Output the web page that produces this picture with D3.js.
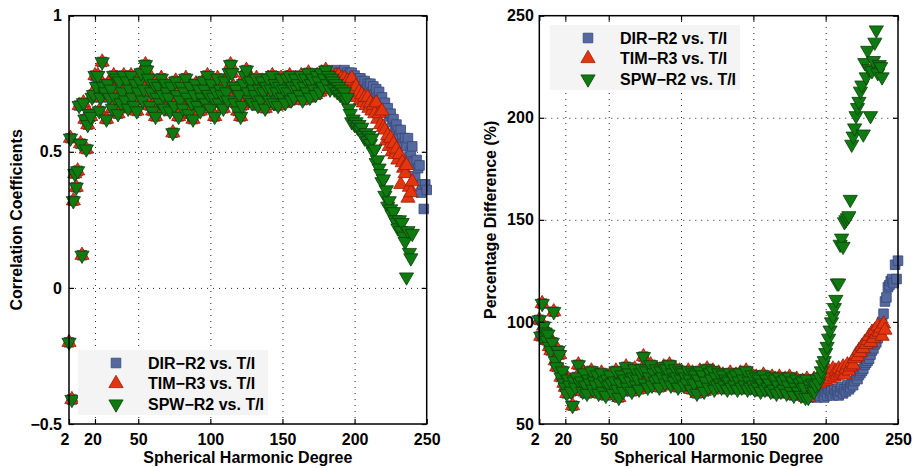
<!DOCTYPE html>
<html>
<head>
<meta charset="utf-8">
<script src="https://cdn.jsdelivr.net/npm/d3@7"></script>
<style>
  body { margin: 0; background: #fff; }
  text { font-family: "Liberation Sans", Arial, Helvetica, sans-serif; font-weight: bold; }
</style>
</head>
<body>
<script>
// ---- data (index 0 = first degree of each array) ----
// correlation coefficients, degrees 2..184, shared by all three solutions
var corrCommon = [
  -0.20, 0.55, -0.41, 0.32, 0.42, 0.37, 0.43, 0.67, 0.53, 0.12,
  0.68, 0.62, 0.51, 0.60, 0.64, 0.63, 0.70, 0.71, 0.78, 0.74,
  0.78, 0.65, 0.70, 0.83, 0.74, 0.72, 0.62, 0.75, 0.70,
  0.73, 0.66, 0.78, 0.70, 0.77, 0.64, 0.76, 0.68, 0.72, 0.78,
  0.69, 0.76, 0.66, 0.73, 0.78, 0.70, 0.67, 0.75, 0.65, 0.72,
  0.76, 0.79, 0.69, 0.73, 0.82, 0.80, 0.77, 0.67, 0.72, 0.65,
  0.75, 0.63, 0.70, 0.74, 0.68, 0.77, 0.71, 0.66, 0.75, 0.72,
  0.70, 0.65, 0.74, 0.57, 0.67, 0.76, 0.71, 0.63, 0.69, 0.74,
  0.66, 0.72, 0.77, 0.70, 0.64, 0.74, 0.68, 0.62, 0.71, 0.75,
  0.67, 0.73, 0.65, 0.70, 0.76, 0.73, 0.68, 0.78, 0.71, 0.66,
  0.75, 0.70, 0.63, 0.72, 0.77, 0.68, 0.73, 0.71, 0.66, 0.76,
  0.72, 0.69, 0.79, 0.82, 0.79, 0.74, 0.68, 0.73, 0.65, 0.71,
  0.63, 0.67, 0.75, 0.78, 0.80, 0.72, 0.69, 0.76, 0.68, 0.73,
  0.71, 0.77, 0.67, 0.73, 0.69, 0.76, 0.72, 0.66, 0.74, 0.77,
  0.69, 0.73, 0.78, 0.68, 0.75, 0.72, 0.67, 0.74, 0.77, 0.70,
  0.73, 0.68, 0.77, 0.72, 0.78, 0.69, 0.74, 0.70, 0.77, 0.73,
  0.75, 0.71, 0.78, 0.69, 0.74, 0.77, 0.72, 0.79, 0.70, 0.75,
  0.77, 0.73, 0.71, 0.78, 0.76, 0.72, 0.79, 0.74, 0.77, 0.80,
  0.75, 0.78, 0.73, 0.77
];
// degrees 185..250 / 185..240
var corrDirTail = [
  0.79, 0.77, 0.80, 0.78, 0.79, 0.76, 0.79, 0.78, 0.80, 0.77,
  0.79, 0.78, 0.79, 0.79, 0.77, 0.78, 0.76, 0.77, 0.75, 0.77,
  0.76, 0.74, 0.76, 0.73, 0.75, 0.74, 0.75, 0.72, 0.74, 0.71,
  0.73, 0.70, 0.72, 0.69, 0.70, 0.67, 0.68, 0.65, 0.66, 0.63,
  0.64, 0.61, 0.62, 0.59, 0.60, 0.58, 0.56, 0.58, 0.55, 0.53,
  0.55, 0.52, 0.55, 0.48, 0.50, 0.52, 0.46, 0.41, 0.47, 0.44,
  0.45, 0.35, 0.38, 0.29, 0.38, 0.36
];
var corrTimTail = [
  0.77, 0.75, 0.78, 0.76, 0.78, 0.75, 0.77, 0.74, 0.77, 0.75,
  0.76, 0.74, 0.76, 0.77, 0.73, 0.72, 0.74, 0.70, 0.72, 0.69,
  0.71, 0.68, 0.70, 0.67, 0.70, 0.66, 0.68, 0.65, 0.67, 0.64,
  0.68, 0.62, 0.64, 0.60, 0.65, 0.59, 0.58, 0.54, 0.56, 0.52,
  0.55, 0.50, 0.53, 0.49, 0.51, 0.47, 0.49, 0.38, 0.46, 0.44,
  0.42, 0.45, 0.33, 0.37, 0.35, 0.39
];
var corrSpwTail = [
  0.76, 0.73, 0.75, 0.72, 0.74, 0.71, 0.73, 0.70, 0.72, 0.69,
  0.70, 0.66, 0.64, 0.61, 0.62, 0.60, 0.61, 0.59, 0.60, 0.58,
  0.59, 0.56, 0.55, 0.57, 0.54, 0.56, 0.53, 0.55, 0.50, 0.51,
  0.46, 0.47, 0.44, 0.42, 0.39, 0.40, 0.34, 0.36, 0.30, 0.32,
  0.29, 0.27, 0.28, 0.25, 0.24, 0.22, 0.25, 0.21, 0.24, 0.19,
  0.17, 0.04, 0.21, 0.13, 0.11, 0.20
];

// percentage difference (%), degrees 2..189 shared
var pctCommon = [
  101, 93, 109, 98, 95, 91, 94, 88, 86, 90,
  105, 81, 78, 86, 84, 73, 76, 70, 68, 65,
  72, 69, 66, 59, 71, 68, 73, 79, 70,
  71, 66, 75, 69, 65, 72, 70, 76, 67, 71,
  69, 74, 65, 70, 75, 66, 71, 64, 72, 69,
  74, 70, 65, 71, 76, 67, 63, 70, 74, 66,
  72, 78, 68, 75, 71, 66, 73, 77, 69, 72,
  67, 75, 77, 83, 70, 76, 68, 73, 79, 69,
  75, 71, 77, 72, 68, 76, 73, 78, 70, 77,
  72, 79, 69, 75, 71, 77, 73, 68, 76, 72,
  75, 69, 73, 70, 76, 72, 67, 75, 70, 74,
  65, 72, 76, 69, 74, 66, 71, 77, 68, 75,
  72, 76, 67, 73, 69, 75, 70, 68, 74, 69,
  72, 67, 71, 75, 68, 73, 69, 74, 67, 71,
  75, 68, 72, 69, 76, 67, 71, 68, 74, 69,
  67, 73, 68, 72, 66, 70, 74, 67, 72, 68,
  70, 66, 73, 67, 72, 65, 69, 73, 66, 71,
  67, 72, 65, 69, 73, 66, 71, 64, 68, 72,
  66, 70, 64, 71, 68, 63, 72, 63, 69
];
// degrees 190..250 / 190..241 / 190..239
var pctDirTail = [
  66, 64, 67, 65, 63, 66, 64, 67, 65, 63,
  66, 64, 67, 65, 66, 64, 67, 65, 66, 64,
  66, 68, 65, 67, 66, 69, 67, 68, 70, 69,
  71, 73, 72, 74, 75, 76, 77, 79, 80, 81,
  82, 84, 86, 87, 89, 90, 92, 95, 97, 100,
  104, 110, 112, 117, 118, 120, 121, 119, 128, 121,
  130
];
var pctTimTail = [
  70, 68, 72, 69, 71, 73, 70, 74, 72, 75,
  71, 74, 76, 72, 75, 77, 73, 76, 74, 77,
  75, 76, 78, 74, 77, 79, 76, 78, 80, 79,
  82, 84, 83, 86, 85, 88, 87, 90, 89, 91,
  93, 90, 95, 92, 96, 94, 98, 95, 97, 93,
  99, 96
];
var pctSpwTail = [
  67, 70, 66, 69, 72, 70, 73, 76, 79, 81,
  85, 88, 92, 96, 100, 103, 107, 111, 119, 119,
  138, 141, 137, 149, 150, 151, 152, 160, 187, 191,
  195, 201, 205, 208, 213, 216, 192, 227, 220, 233,
  224, 201, 223, 228, 237, 243, 222, 226, 225, 220
];

var seriesNames = ["DIR\u2212R2 vs. T/I", "TIM\u2212R3 vs. T/I", "SPW\u2212R2 vs. T/I"];
var xTicks = [2, 20, 50, 100, 150, 200, 250];
var corrTicks = [-0.5, 0, 0.5, 1];
var pctTicks = [50, 100, 150, 200, 250];

// ---- styles ----
var fills = ["#55699f", "#e3360f", "#0e7a10"];
var strokes = ["#34477a", "#9c1b07", "#0b400b"];
var shapes = ["square", "up", "down"];

function toPoints(arr, first) {
  return arr.map(function (v, i) { return { n: first + i, v: v }; });
}

function markerPath(type) {
  if (type === "square") return "M-4.8,-4.8H4.8V4.8H-4.8Z";
  var r = 4.1, s = Math.sqrt(3) * r;
  if (type === "up") return "M0," + (-2 * r) + "L" + s + "," + r + "L" + (-s) + "," + r + "Z";
  return "M0," + (2 * r) + "L" + s + "," + (-r) + "L" + (-s) + "," + (-r) + "Z";
}

function minusFmt(d) { return d < 0 ? "\u2212" + Math.abs(d) : String(d); }

var svg = d3.select("body").append("svg")
  .attr("width", 916).attr("height", 468);

function drawPanel(p) {
  var x = d3.scaleLinear().domain([2, 250]).range([p.left, p.right]);
  var y = d3.scaleLinear().domain(p.yDomain).range([424, 15.7]);
  var g = svg.append("g");
  var h = 424 - 15.7, w = p.right - p.left;

  // dotted grid
  var gx = g.append("g").attr("transform", "translate(0,424)")
    .call(d3.axisBottom(x).tickValues([20, 50, 100, 150, 200]).tickSize(-h).tickFormat(""));
  var gy = g.append("g").attr("transform", "translate(" + p.left + ",0)")
    .call(d3.axisLeft(y).tickValues(p.yGrid).tickSize(-w).tickFormat(""));
  [gx, gy].forEach(function (a) {
    a.select(".domain").remove();
    a.selectAll("line").attr("stroke", "#222").attr("stroke-width", 1)
      .attr("stroke-dasharray", "1,5");
  });

  // markers
  p.series.forEach(function (pts, k) {
    g.append("g").selectAll("path").data(pts).enter().append("path")
      .attr("d", markerPath(shapes[k]))
      .attr("transform", function (d) { return "translate(" + x(d.n) + "," + y(d.v) + ")"; })
      .attr("fill", fills[k]).attr("stroke", strokes[k]).attr("stroke-width", 0.8);
  });

  // frame and ticks
  g.append("rect").attr("x", p.left).attr("y", 15.7).attr("width", w).attr("height", h)
    .attr("fill", "none").attr("stroke", "#000").attr("stroke-width", 1.5);

  var ax = [
    g.append("g").attr("transform", "translate(0,424)")
      .call(d3.axisBottom(x).tickValues(xTicks).tickSizeInner(-5).tickSizeOuter(0).tickPadding(10)),
    g.append("g").attr("transform", "translate(0,15.7)")
      .call(d3.axisTop(x).tickValues(xTicks).tickSizeInner(-5).tickSizeOuter(0).tickFormat("")),
    g.append("g").attr("transform", "translate(" + p.left + ",0)")
      .call(d3.axisLeft(y).tickValues(p.yTicks).tickSizeInner(-5).tickSizeOuter(0)
        .tickPadding(p.yPad).tickFormat(minusFmt)),
    g.append("g").attr("transform", "translate(" + p.right + ",0)")
      .call(d3.axisRight(y).tickValues(p.yTicks).tickSizeInner(-5).tickSizeOuter(0).tickFormat(""))
  ];
  ax.forEach(function (a) {
    a.select(".domain").remove();
    a.selectAll("line").attr("stroke", "#000").attr("stroke-width", 1.2);
    a.selectAll("text").attr("font-size", 16).attr("fill", "#000")
      .style("font-family", null);
  });
  ax[0].selectAll("text").filter(function (d) { return d === 2; }).attr("dx", -4.5);
  ax[0].selectAll("text").filter(function (d) { return d === 20; }).attr("dx", -2.5);

  // titles
  g.append("text").attr("x", (p.left + p.right) / 2).attr("y", 463)
    .attr("text-anchor", "middle").attr("font-size", 16).text("Spherical Harmonic Degree");
  g.append("text").attr("transform", "translate(" + p.yTitleX + "," + (424 + 15.7) / 2 + ") rotate(-90)")
    .attr("text-anchor", "middle").attr("font-size", 16).text(p.yTitle);

  // legend
  var lg = g.append("g");
  lg.append("rect").attr("x", p.leg[0]).attr("y", p.leg[1]).attr("width", 190).attr("height", 65)
    .attr("fill", "#f4f4f4");
  seriesNames.forEach(function (name, k) {
    var cy = p.leg[1] + 13 + k * 20.5;
    lg.append("path").attr("d", markerPath(shapes[k]))
      .attr("transform", "translate(" + (p.leg[0] + 38) + "," + cy + ")")
      .attr("fill", fills[k]).attr("stroke", strokes[k]).attr("stroke-width", 0.8);
    lg.append("text").attr("x", p.leg[0] + 70).attr("y", cy).attr("dy", "0.36em")
      .attr("font-size", 16).text(name);
  });
}

drawPanel({
  left: 69, right: 426.7,
  yDomain: [-0.5, 1], yTicks: corrTicks, yGrid: [0, 0.5], yPad: 7,
  yTitle: "Correlation Coefficients", yTitleX: 21.5,
  leg: [78, 350],
  series: [
    toPoints(corrCommon.concat(corrDirTail), 2),
    toPoints(corrCommon.concat(corrTimTail), 2),
    toPoints(corrCommon.concat(corrSpwTail), 2)
  ]
});

drawPanel({
  left: 539.3, right: 898,
  yDomain: [50, 250], yTicks: pctTicks, yGrid: [100, 150, 200], yPad: 5.5,
  yTitle: "Percentage Difference (%)", yTitleX: 496,
  leg: [550, 25],
  series: [
    toPoints(pctCommon.concat(pctDirTail), 2),
    toPoints(pctCommon.concat(pctTimTail), 2),
    toPoints(pctCommon.concat(pctSpwTail), 2)
  ]
});
</script>
</body>
</html>
